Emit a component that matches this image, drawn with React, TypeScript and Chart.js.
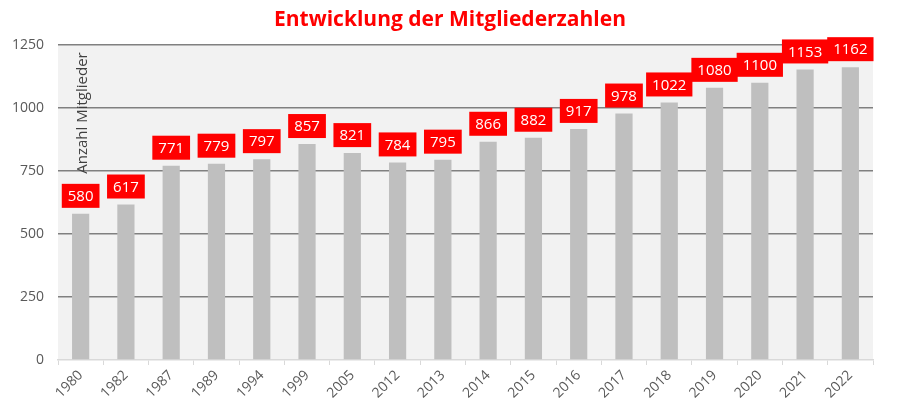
import React, { useEffect, useRef } from "react";
import { Chart, registerables } from "chart.js";

Chart.register(...registerables);

const years = ["1980", "1982", "1987", "1989", "1994", "1999", "2005", "2012", "2013", "2014", "2015", "2016", "2017", "2018", "2019", "2020", "2021", "2022"];
const members = [580, 617, 771, 779, 797, 857, 821, 784, 795, 866, 882, 917, 978, 1022, 1080, 1100, 1153, 1162];
const yTicks = [0, 250, 500, 750, 1000, 1250];
const chartTitle = "Entwicklung der Mitgliederzahlen";
const yTitle = "Anzahl Mitglieder";

const FONT = "'Open Sans', 'Noto Sans', sans-serif";

const decorPlugin = {
  id: "decor",
  beforeDraw(chart: any) {
    const { ctx, chartArea } = chart;
    ctx.save();
    ctx.fillStyle = "#f2f2f2";
    ctx.fillRect(chartArea.left, chartArea.top, chartArea.right - chartArea.left, chartArea.bottom - chartArea.top);
    ctx.restore();
  },
  afterDraw(chart: any) {
    const { ctx, chartArea } = chart;
    ctx.save();
    ctx.fillStyle = "#ff0000";
    ctx.font = `bold 21px ${FONT}`;
    ctx.textAlign = "center";
    ctx.textBaseline = "middle";
    ctx.fillText(chartTitle, 450, 20);
    ctx.translate(chartArea.left + 25, chartArea.top + 68);
    ctx.rotate(-Math.PI / 2);
    ctx.fillStyle = "#404040";
    ctx.font = `15px ${FONT}`;
    ctx.fillText(yTitle, 0, 0);
    ctx.restore();
  },
  afterDatasetsDraw(chart: any) {
    const { ctx } = chart;
    const meta = chart.getDatasetMeta(0);
    ctx.save();
    ctx.font = `15px ${FONT}`;
    ctx.textAlign = "center";
    ctx.textBaseline = "middle";
    meta.data.forEach((bar: any, i: number) => {
      const text = String(members[i]);
      const w = ctx.measureText(text).width + 12;
      const h = 24;
      const bottom = bar.y - 6;
      ctx.fillStyle = "#ff0000";
      ctx.fillRect(bar.x - w / 2, bottom - h, w, h);
      ctx.fillStyle = "#ffffff";
      ctx.fillText(text, bar.x, bottom - h / 2 + 1);
    });
    ctx.restore();
  },
};

export default function App() {
  const ref = useRef<HTMLCanvasElement | null>(null);
  useEffect(() => {
    document.body.style.margin = "0";
    const chart = new Chart(ref.current as HTMLCanvasElement, {
      type: "bar",
      data: {
        labels: years,
        datasets: [
          {
            data: members,
            backgroundColor: "#bfbfbf",
            barPercentage: 0.38,
            categoryPercentage: 1,
          },
        ],
      },
      options: {
        animation: false,
        responsive: false,
        maintainAspectRatio: false,
        layout: { padding: { top: 45, right: 27, left: 0, bottom: 0 } },
        plugins: { legend: { display: false }, title: { display: false }, tooltip: { enabled: false } },
        scales: {
          x: {
            grid: { display: true, drawOnChartArea: false, drawTicks: true, tickLength: 5, color: "#d9d9d9", offset: true },
            border: { display: true, color: "#d9d9d9", width: 1.5 },
            ticks: { color: "#595959", font: { family: FONT, size: 14 }, maxRotation: 45, minRotation: 45, padding: 2 },
            afterFit(scale: any) {
              scale.height = 51;
            },
          },
          y: {
            min: 0,
            max: 1250,
            afterBuildTicks(scale: any) {
              scale.ticks = yTicks.map((v) => ({ value: v }));
            },
            grid: {
              drawTicks: false,
              lineWidth: 1.5,
              color: (c: any) => (c.tick && c.tick.value === 0 ? "rgba(0,0,0,0)" : "#808080"),
            },
            border: { display: false },
            ticks: {
              color: "#595959",
              font: { family: FONT, size: 14 },
              padding: 14,
              callback: (v: any) => String(v),
            },
            afterFit(scale: any) {
              scale.width = 58;
            },
          },
        },
      },
      plugins: [decorPlugin],
    });
    return () => chart.destroy();
  }, []);
  return (
    <div style={{ width: 900, height: 411 }}>
      <canvas ref={ref} width={900} height={411} style={{ width: 900, height: 411, display: "block" }} />
    </div>
  );
}
